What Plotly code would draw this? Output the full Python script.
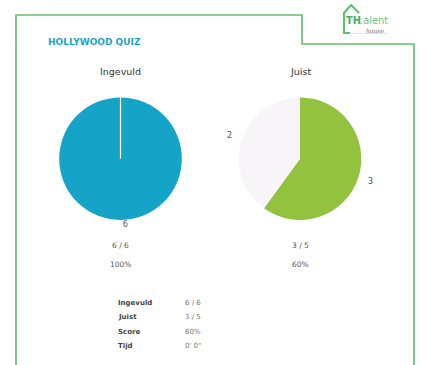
import math
import plotly.graph_objects as go

W, H = 430, 365

quiz_title = "HOLLYWOOD QUIZ"
pie_titles = ["Ingevuld", "Juist"]
ingevuld_labels = ["Ingevuld", "Leeg"]
ingevuld_values = [6, 0]
juist_labels = ["Juist", "Fout"]
juist_values = [3, 2]
ratio_texts = ["6 / 6", "3 / 5"]
pct_texts = ["100%", "60%"]
table_keys = ["Ingevuld", "Juist", "Score", "Tijd"]
table_vals = ["6 / 6", "3 / 5", "60%", "0' 0\""]

BLUE = "#16a3c8"
GREEN = "#93c23f"
PALE = "#f7f5f7"
FRAME = "#5cc06d"
FONT = "DejaVu Sans, Verdana, sans-serif"


def px(x):
    return x / W


def py(y):
    return 1 - y / H


R = 61.3
centers = [(120.5, 158.7), (300.0, 158.7)]


def dom(c):
    cx, cy = c
    return dict(x=[px(cx - R), px(cx + R)], y=[py(cy + R), py(cy - R)])


def labels_of(vals):
    return [str(v) if v else "" for v in vals]


fig = go.Figure()
fig.add_trace(go.Pie(
    labels=ingevuld_labels, values=ingevuld_values, domain=dom(centers[0]),
    sort=False, direction="clockwise", rotation=0,
    marker=dict(colors=[BLUE, PALE], line=dict(color="white", width=0)),
    text=labels_of(ingevuld_values), textinfo="text", textposition="outside",
    textfont=dict(size=8, color="#555", family=FONT),
    showlegend=False, hoverinfo="label+value",
))
fig.add_trace(go.Pie(
    labels=juist_labels, values=juist_values, domain=dom(centers[1]),
    sort=False, direction="clockwise", rotation=0,
    marker=dict(colors=[GREEN, PALE], line=dict(color="white", width=0)),
    textinfo="none",
    showlegend=False, hoverinfo="label+value",
))

shapes = []
# frame
path = "M {} {} L {} {} L {} {} L {} {} L {} {} L {} {}".format(
    px(16), py(366), px(16), py(15), px(302), py(15), px(302), py(44),
    px(414), py(44), px(414), py(366))
shapes.append(dict(type="path", xref="paper", yref="paper", path=path,
                   line=dict(color=FRAME, width=1.6)))
# white seam on full pie
cx, cy = centers[0]
shapes.append(dict(type="line", xref="paper", yref="paper",
                   x0=px(cx), x1=px(cx), y0=py(cy - R), y1=py(cy),
                   line=dict(color="white", width=1.2)))
# logo house
shapes.append(dict(type="path", xref="paper", yref="paper",
                   path="M {} {} L {} {} L {} {} L {} {} L {} {}".format(
                       px(350), py(33), px(344), py(33), px(344), py(13),
                       px(351), py(5), px(359), py(13)),
                   line=dict(color=FRAME, width=2)))
shapes.append(dict(type="line", xref="paper", yref="paper",
                   x0=px(353), x1=px(389), y0=py(33.5), y1=py(33.5),
                   line=dict(color="#cfcfcf", width=0.6)))

ann = []


def text(x, y, s, size, color, bold=False, xanchor="center", family=FONT):
    ann.append(dict(x=px(x), y=py(y), xref="paper", yref="paper", text=("<b>%s</b>" % s) if bold else s,
                    showarrow=False, xanchor=xanchor, yanchor="middle",
                    font=dict(size=size, color=color, family=family)))


# outside value labels for the Juist pie, placed along each slice's mid angle
tot = sum(juist_values)
acc = 0
for v in juist_values:
    mid = (acc + v / 2) / tot * 2 * math.pi
    acc += v
    lx = centers[1][0] + (R + 13) * math.sin(mid)
    ly = centers[1][1] - (R + 13) * math.cos(mid)
    text(lx, ly, str(v), 8, "#555")

text(45.5, 41.5, quiz_title, 9, "#1ea3c9", bold=True, xanchor="left")
for i, c in enumerate(centers):
    text(c[0], 72, pie_titles[i], 9.5, "#333")
    text(c[0], 245, ratio_texts[i], 7.5, "#555")
    text(c[0], 264, pct_texts[i], 7.5, "#555")

rows_y = [302.5, 317, 331.5, 346]
for k, v, y in zip(table_keys, table_vals, rows_y):
    text(116, y, k, 7, "#444", bold=True, xanchor="left")
    text(183, y, v, 7, "#777", xanchor="left")

# logo text
text(343.5, 21, "<b>TH</b>", 11, "#3fb35a", xanchor="left", family="DejaVu Sans Condensed, DejaVu Sans")
text(358, 21, ".alent", 11, "#6cc47f", xanchor="left", family="DejaVu Sans Condensed, DejaVu Sans")
text(364, 30.5, "<i>house</i>", 6, "#777", xanchor="left", family="DejaVu Serif")

fig.update_layout(
    width=W, height=H, margin=dict(l=0, r=0, t=0, b=0),
    paper_bgcolor="white", plot_bgcolor="white",
    shapes=shapes, annotations=ann, showlegend=False,
)
fig.write_html("out.html", config={"displayModeBar": False},
               post_script="document.body.style.margin='0';document.body.style.overflow='hidden';")
